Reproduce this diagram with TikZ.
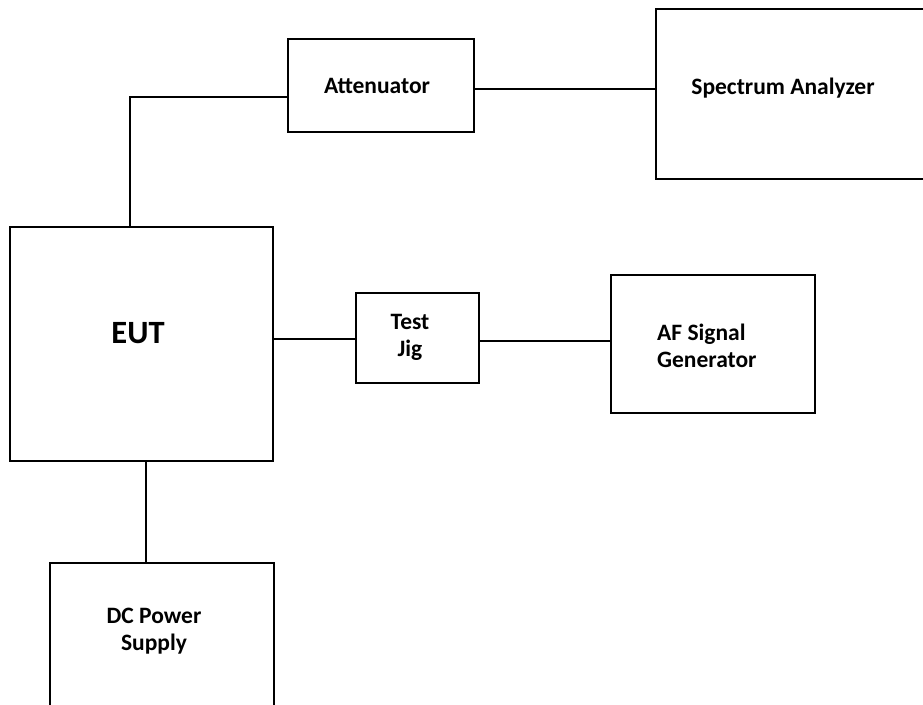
\documentclass[tikz,border=0pt]{standalone}
\usepackage{fontspec}
\setmainfont{Carlito}
\begin{document}
\begin{tikzpicture}[x=1pt,y=-1pt,
  box/.style={draw=black, line width=1.8pt, inner sep=0pt, outer sep=0pt},
  lbl/.style={font=\bfseries\fontsize{23.5}{27}\selectfont, align=center, inner sep=0pt},
  wire/.style={draw=black, line width=1.5pt}]
\useasboundingbox (0,0) rectangle (923,704);
% boxes
\node[box, minimum width=186pt, minimum height=93pt] (att) at (381,85.5) {};
\node[box, minimum width=304pt, minimum height=170pt] (spec) at (808,94) {};
\node[box, minimum width=263pt, minimum height=234pt] (eut) at (141.5,344) {};
\node[box, minimum width=123pt, minimum height=90pt] (jig) at (417.5,338) {};
\node[box, minimum width=204pt, minimum height=138pt] (af) at (713,344) {};
\node[box, minimum width=224pt, minimum height=197pt] (dc) at (162,661.5) {};
% labels
\node[lbl, anchor=base] (attt) at (377,93) {Attenuator};
\node[lbl, anchor=base] (spect) at (783,94) {Spectrum Analyzer};
\node[lbl, anchor=base, font=\bfseries\fontsize{32.5}{36}\selectfont] (eutt) at (138,343) {EUT};
\node[lbl] (jigt) at (410,337) {Test\\Jig};
\node[lbl, align=left, anchor=west] (aft) at (657,346) {AF Signal\\Generator};
\node[lbl] (dct) at (154,631) {DC Power\\Supply};
% connectors
\coordinate (c1) at (130,97);
\coordinate (c2) at (0,89);
\coordinate (c3) at (0,339);
\coordinate (c4) at (0,341);
\coordinate (c5) at (146,0);
\draw[wire] (eut.north -| c1) |- (att.west |- c1);
\draw[wire] (att.east |- c2) -- (spec.west |- c2);
\draw[wire] (eut.east |- c3) -- (jig.west |- c3);
\draw[wire] (jig.east |- c4) -- (af.west |- c4);
\draw[wire] (eut.south -| c5) -- (dc.north -| c5);
\end{tikzpicture}
\end{document}
